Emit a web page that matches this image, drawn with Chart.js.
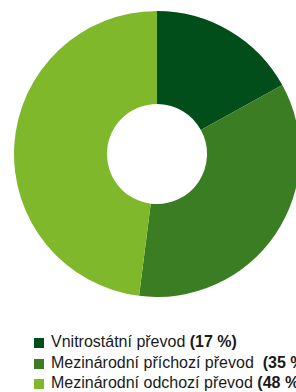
<!DOCTYPE html>
<html>

<head>
    <script src="https://cdn.jsdelivr.net/npm/chart.js@4/dist/chart.umd.min.js"></script>
</head>

<style>
    html, body {
        margin: 0;
        padding: 0;
        width: 296px;
        height: 392px;
        overflow: hidden;
        background: #fff;
    }

    #chartbox {
        position: absolute;
        left: 14px;
        top: 11px;
        width: 286px;
        height: 286px;
    }

    .legend {
        position: absolute;
        left: 34px;
        top: 332px;
        font-family: "Liberation Sans", Arial, sans-serif;
        font-size: 16px;
        color: #1a1a1a;
        white-space: pre;
    }

    .legend .row {
        height: 20.5px;
        line-height: 20px;
    }

    .legend .box {
        display: inline-block;
        width: 10px;
        height: 10px;
        margin-right: 7px;
        vertical-align: -1px;
    }
</style>

<body>
    <div id="chartbox"><canvas id="myChart" width="286" height="286"></canvas></div>
    <div class="legend" id="legend"></div>
</body>

<script>
    var labels = ["Vnitrostátní převod", "Mezinárodní příchozí převod ", "Mezinárodní odchozí převod"];
    var values = [17, 35, 48];
    var colors = ["#024e1a", "#3b7d23", "#80b82c"];

    var ctx = document.getElementById('myChart').getContext('2d');
    var pie = new Chart(ctx, {
        type: 'doughnut',
        data: {
            labels: labels,
            datasets: [{
                data: values,
                backgroundColor: colors,
                borderWidth: 0
            }]
        },
        options: {
            responsive: false,
            animation: false,
            cutout: '35%',
            layout: { padding: 0 },
            plugins: {
                legend: { display: false },
                tooltip: { enabled: false }
            }
        }
    });

    // legend with bold percentages
    var html = "";
    for (var i = 0; i < labels.length; i++) {
        html += '<div class="row"><span class="box" style="background:' + colors[i] + '"></span>' +
            labels[i] + ' <b>(' + values[i] + ' %)</b></div>';
    }
    document.getElementById("legend").innerHTML = html;
</script>

</html>
